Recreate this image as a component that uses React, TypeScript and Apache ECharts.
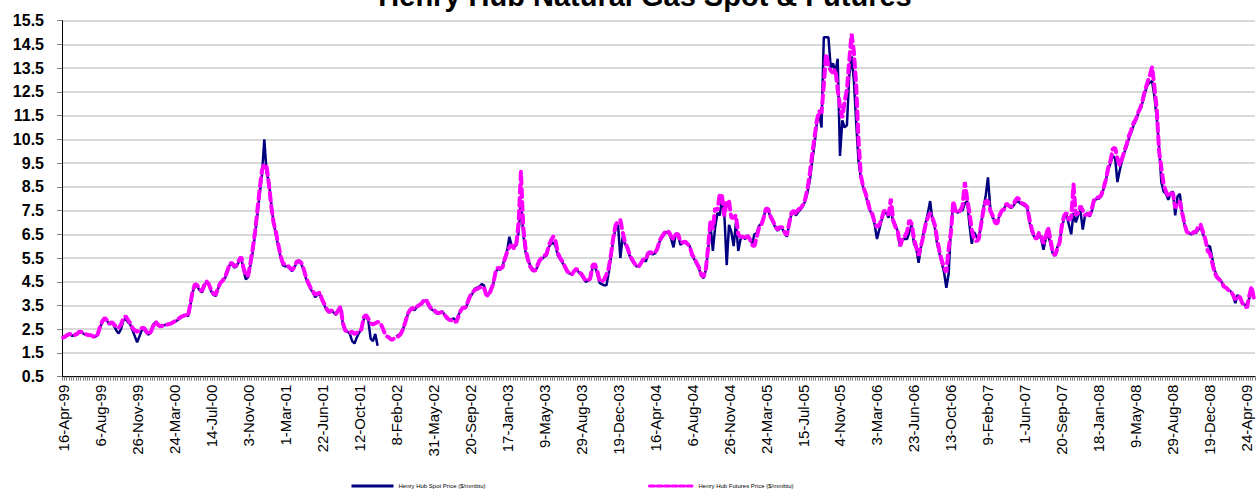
import React, { useEffect, useRef } from "react";
import * as echarts from "echarts";

const tickLabels = [
  "16-Apr-99", "6-Aug-99", "26-Nov-99", "24-Mar-00", "14-Jul-00", "3-Nov-00", "1-Mar-01",
  "22-Jun-01", "12-Oct-01", "8-Feb-02", "31-May-02", "20-Sep-02", "17-Jan-03", "9-May-03",
  "29-Aug-03", "19-Dec-03", "16-Apr-04", "6-Aug-04", "26-Nov-04", "24-Mar-05", "15-Jul-05",
  "4-Nov-05", "3-Mar-06", "23-Jun-06", "13-Oct-06", "9-Feb-07", "1-Jun-07", "20-Sep-07",
  "18-Jan-08", "9-May-08", "29-Aug-08", "19-Dec-08", "24-Apr-09",
];

const spotName = "Henry Hub Spot Price ($/mmbtu)";
const futuresName = "Henry Hub Futures Price ($/mmbtu)";

// weekly values, one row per 16 weeks (one row per tick label)
const spot: (number | null)[] = [
  2.12, 2.18, 2.25, 2.28, 2.22, 2.25, 2.32, 2.38, 2.36, 2.30, 2.27, 2.25, 2.24, 2.22, 2.18, 2.35,
  2.60, 2.80, 2.95, 2.85, 2.70, 2.78, 2.65, 2.45, 2.32, 2.50, 2.85, 2.95, 2.80, 2.70, 2.45, 2.20,
  1.95, 2.20, 2.45, 2.50, 2.35, 2.27, 2.45, 2.70, 2.80, 2.65, 2.62, 2.65, 2.68, 2.70, 2.72, 2.75,
  2.80, 2.85, 2.92, 3.00, 3.05, 3.10, 3.05, 3.50, 4.05, 4.35, 4.30, 4.15, 4.05, 4.30, 4.50, 4.40,
  4.10, 3.95, 3.90, 4.20, 4.45, 4.60, 4.65, 4.90, 5.20, 5.25, 5.10, 5.15, 5.35, 5.50, 5.00, 4.60,
  4.70, 5.20, 5.75, 6.50, 7.30, 8.20, 9.00, 10.50, 9.10, 8.70, 7.80, 7.00, 6.50, 6.00, 5.55, 5.20,
  5.15, 5.15, 5.05, 4.95, 5.10, 5.30, 5.35, 5.25, 5.00, 4.65, 4.40, 4.20, 4.05, 3.85, 3.95, 4.00,
  3.70, 3.50, 3.30, 3.20, 3.30, 3.20, 3.10, 3.30, 3.45, 2.70, 2.45, 2.40, 2.30, 2.00, 1.90, 2.15,
  2.35, 2.50, 2.90, 3.10, 2.85, 2.10, 2.00, 2.30, 1.80, null, null, null, null, null, null, null,
  2.20, 2.25, 2.30, 2.50, 2.80, 3.10, 3.30, 3.35, 3.30, 3.45, 3.50, 3.55, 3.70, 3.70, 3.50, 3.35,
  3.30, 3.20, 3.15, 3.20, 3.25, 3.10, 2.95, 2.90, 2.92, 2.95, 2.85, 3.10, 3.30, 3.40, 3.38, 3.60,
  3.85, 4.00, 4.20, 4.25, 4.30, 4.40, 4.35, 4.00, 3.95, 4.20, 4.40, 4.90, 5.05, 5.00, 5.15, 5.50,
  5.80, 6.40, 6.00, 5.95, 6.05, 6.60, 7.90, 6.50, 5.75, 5.40, 5.20, 5.05, 4.95, 5.10, 5.35, 5.45,
  5.55, 5.60, 5.95, 6.10, 6.15, 6.00, 5.60, 5.45, 5.30, 5.10, 4.90, 4.85, 4.80, 4.95, 5.05, 4.90,
  4.80, 4.65, 4.50, 4.55, 4.60, 5.10, 5.15, 4.85, 4.45, 4.40, 4.35, 4.35, 4.90, 5.60, 6.30, 6.80,
  6.90, 5.50, 6.40, 6.10, 5.90, 5.60, 5.40, 5.25, 5.15, 5.15, 5.30, 5.45, 5.35, 5.65, 5.70, 5.65,
  5.70, 5.85, 6.20, 6.35, 6.50, 6.60, 6.55, 6.30, 5.95, 6.55, 6.45, 6.05, 6.15, 6.20, 6.10, 6.00,
  5.60, 5.45, 5.25, 5.05, 4.75, 4.65, 5.00, 5.90, 6.90, 5.80, 6.80, 7.40, 7.30, 8.00, 7.30, 5.20,
  6.90, 6.60, 6.00, 7.00, 5.80, 6.30, 6.40, 6.30, 6.45, 6.30, 6.10, 6.50, 6.55, 6.85, 6.95, 7.25,
  7.55, 7.50, 7.20, 7.00, 6.80, 6.65, 6.75, 6.75, 6.55, 6.40, 6.90, 7.35, 7.40, 7.30, 7.45, 7.55,
  7.70, 7.90, 8.30, 8.80, 9.60, 10.30, 11.20, 11.60, 11.00, 14.80, 14.80, 14.80, 13.50, 13.70, 13.30, 13.90,
  9.80, 11.30, 11.00, 11.10, 13.20, 14.00, 13.00, 11.20, 9.60, 8.90, 8.50, 8.20, 7.80, 7.50, 7.30, 6.90,
  6.30, 6.70, 7.10, 7.40, 7.40, 7.20, 7.60, 7.00, 6.90, 6.60, 6.00, 6.30, 6.30, 6.30, 6.60, 6.90,
  6.10, 5.90, 5.30, 5.95, 6.50, 6.95, 7.40, 7.90, 7.10, 6.80, 6.10, 5.70, 5.30, 4.90, 4.25, 4.85,
  6.80, 7.80, 7.50, 7.40, 7.55, 7.50, 7.80, 7.90, 6.90, 6.10, 6.60, 6.40, 6.30, 6.90, 7.60, 8.10,
  8.90, 7.60, 7.20, 7.10, 7.00, 7.30, 7.50, 7.60, 7.75, 7.70, 7.60, 7.70, 7.85, 7.90, 7.80, 7.75,
  7.70, 7.60, 7.00, 6.60, 6.40, 6.30, 6.50, 6.30, 5.85, 6.30, 6.50, 6.10, 5.70, 5.60, 5.95, 6.20,
  6.80, 7.20, 7.30, 6.90, 6.50, 7.40, 7.00, 7.30, 7.50, 6.70, 7.30, 7.40, 7.25, 7.50, 7.90, 8.00,
  8.00, 8.10, 8.40, 8.80, 9.20, 9.50, 9.80, 9.70, 8.70, 9.20, 9.60, 9.95, 10.20, 10.55, 10.80, 11.10,
  11.30, 11.60, 11.80, 12.10, 12.50, 12.80, 12.90, 12.95, 12.30, 11.40, 10.20, 8.70, 8.30, 8.20, 7.95, 8.25,
  8.30, 7.30, 8.10, 8.20, 7.40, 6.90, 6.60, 6.55, 6.50, 6.55, 6.55, 6.70, 6.80, 6.50, 6.30, 6.00,
  6.00, 5.50, 5.00, 4.75, 4.60, 4.50, 4.30, 4.25, 4.15, 4.10, 3.90, 3.60, 3.95, 3.80, 3.60, 3.55,
  3.45, 3.80, 4.20, 3.85,
];

const futures: (number | null)[] = [
  2.15, 2.20, 2.27, 2.30, 2.25, 2.26, 2.30, 2.40, 2.38, 2.32, 2.28, 2.26, 2.25, 2.20, 2.16, 2.30,
  2.62, 2.85, 2.97, 2.88, 2.72, 2.80, 2.70, 2.60, 2.55, 2.70, 2.95, 3.05, 2.90, 2.75, 2.55, 2.45,
  2.40, 2.42, 2.55, 2.55, 2.40, 2.28, 2.40, 2.65, 2.82, 2.70, 2.62, 2.65, 2.68, 2.70, 2.72, 2.76,
  2.82, 2.88, 2.95, 3.02, 3.06, 3.10, 3.05, 3.55, 4.10, 4.40, 4.35, 4.20, 4.10, 4.35, 4.52, 4.40,
  4.15, 4.00, 3.95, 4.25, 4.45, 4.55, 4.70, 4.95, 5.25, 5.30, 5.15, 5.20, 5.40, 5.55, 5.10, 4.75,
  4.75, 5.30, 5.90, 6.60, 7.50, 8.40, 9.20, 9.45, 9.35, 8.60, 7.70, 7.00, 6.60, 6.10, 5.60, 5.30,
  5.20, 5.18, 5.10, 5.00, 5.12, 5.35, 5.38, 5.30, 5.05, 4.70, 4.45, 4.25, 4.10, 3.95, 4.00, 4.05,
  3.75, 3.55, 3.35, 3.22, 3.30, 3.22, 3.15, 3.30, 3.45, 2.75, 2.45, 2.40, 2.35, 2.40, 2.30, 2.35,
  2.40, 2.50, 3.00, 3.10, 2.95, 2.75, 2.70, 2.75, 2.80, 2.80, 2.60, 2.35, 2.20, 2.15, 2.05, 2.10,
  2.15, 2.20, 2.30, 2.50, 2.80, 3.15, 3.30, 3.40, 3.35, 3.45, 3.52, 3.58, 3.72, 3.75, 3.55, 3.40,
  3.35, 3.25, 3.18, 3.20, 3.22, 3.10, 2.98, 2.90, 2.88, 2.90, 2.78, 3.05, 3.30, 3.42, 3.40, 3.65,
  3.90, 4.05, 4.15, 4.20, 4.25, 4.30, 4.25, 3.95, 3.90, 4.15, 4.40, 4.90, 5.10, 5.05, 5.10, 5.45,
  5.75, 5.95, 6.05, 5.90, 6.10, 7.00, 9.15, 6.80, 5.90, 5.45, 5.15, 5.00, 4.95, 5.15, 5.40, 5.50,
  5.60, 5.65, 6.00, 6.25, 6.40, 6.20, 5.70, 5.50, 5.35, 5.15, 4.95, 4.85, 4.80, 4.95, 5.05, 4.90,
  4.85, 4.70, 4.55, 4.55, 4.65, 5.20, 5.25, 4.95, 4.55, 4.50, 4.60, 4.80, 5.10, 5.70, 6.40, 6.90,
  7.05, 7.10, 6.60, 6.15, 5.95, 5.65, 5.45, 5.30, 5.15, 5.15, 5.30, 5.45, 5.45, 5.70, 5.75, 5.70,
  5.72, 5.90, 6.25, 6.40, 6.55, 6.65, 6.60, 6.40, 6.30, 6.50, 6.50, 6.20, 6.15, 6.20, 6.10, 6.00,
  5.65, 5.50, 5.30, 5.10, 4.80, 4.70, 5.05, 6.00, 7.10, 6.70, 7.60, 7.50, 8.20, 8.10, 7.25, 7.90,
  7.90, 7.20, 7.20, 7.30, 6.50, 6.40, 6.40, 6.30, 6.45, 6.30, 6.05, 6.00, 6.40, 6.80, 6.90, 7.20,
  7.60, 7.55, 7.25, 7.05, 6.85, 6.70, 6.80, 6.80, 6.60, 6.45, 6.95, 7.40, 7.50, 7.35, 7.55, 7.60,
  7.75, 8.00, 8.45, 9.10, 9.90, 10.60, 11.30, 11.70, 11.60, 12.80, 14.10, 13.60, 13.40, 13.30, 13.45, 12.60,
  11.90, 11.40, 12.10, 12.60, 13.80, 14.95, 14.20, 12.80, 10.50, 9.00, 8.50, 8.25, 7.90, 7.50, 7.35, 7.00,
  6.80, 6.90, 7.15, 7.50, 7.45, 7.30, 8.00, 7.10, 6.80, 6.60, 6.00, 6.30, 6.40, 6.60, 7.10, 6.95,
  6.30, 5.95, 5.60, 6.00, 6.40, 6.90, 7.20, 7.40, 7.20, 6.90, 6.30, 5.80, 5.40, 5.10, 4.90, 5.90,
  6.60, 7.90, 7.50, 7.40, 7.50, 7.70, 8.70, 8.00, 7.40, 6.70, 6.30, 6.20, 6.30, 6.90, 7.50, 7.90,
  7.90, 7.50, 7.30, 7.00, 6.95, 7.30, 7.50, 7.55, 7.80, 7.70, 7.65, 7.75, 7.95, 8.05, 7.85, 7.80,
  7.75, 7.65, 7.10, 6.70, 6.40, 6.30, 6.55, 6.45, 6.10, 6.40, 6.80, 6.30, 5.75, 5.60, 5.90, 6.15,
  6.90, 7.30, 7.40, 7.10, 7.20, 8.60, 7.30, 7.40, 7.70, 7.50, 7.30, 7.35, 7.30, 7.60, 8.00, 8.05,
  8.05, 8.15, 8.45, 8.80, 9.30, 9.60, 10.10, 10.15, 9.70, 9.40, 9.70, 10.00, 10.30, 10.65, 10.90, 11.20,
  11.35, 11.65, 11.85, 12.20, 12.60, 12.90, 13.20, 13.55, 12.70, 11.80, 10.00, 9.30, 8.60, 8.30, 8.10, 8.20,
  8.25, 7.60, 7.80, 7.90, 7.40, 6.95, 6.60, 6.55, 6.50, 6.60, 6.60, 6.85, 6.90, 6.60, 6.30, 5.80,
  5.70, 5.30, 4.90, 4.70, 4.60, 4.50, 4.30, 4.25, 4.15, 4.10, 3.95, 3.75, 3.90, 3.85, 3.60, 3.50,
  3.40, 3.90, 4.30, 3.80,
];

const FONT = "'Liberation Sans', Arial, sans-serif";
const NARROW = "'Liberation Sans Narrow', 'Arial Narrow', " + FONT;

export default function App() {
  const ref = useRef<HTMLDivElement>(null);
  useEffect(() => {
    const chart = echarts.init(ref.current!, null, { renderer: "svg" });
    const cats = spot.map((_, i) => "w" + i);
    const legendBase = {
      top: 482,
      padding: 0,
      itemHeight: 10,
      itemGap: 5,
      itemStyle: { opacity: 0 },
      textStyle: { fontSize: 6, fontFamily: NARROW, color: "#000" },
    };
    chart.setOption({
      animation: false,
      backgroundColor: "#ffffff",
      title: {
        text: "Henry Hub Natural Gas Spot & Futures",
        left: 640,
        textAlign: "center",
        top: -24,
        textStyle: { fontSize: 29, fontWeight: "bold", fontFamily: FONT, color: "#000" },
      },
      legend: [
        { ...legendBase, data: [spotName], left: 350, itemWidth: 42, lineStyle: { width: 3 } },
        { ...legendBase, data: [futuresName], left: 648, itemWidth: 44, lineStyle: { width: 3, type: [5, 2.5] } },
      ],
      grid: { left: 62, right: 2, top: 20.7, bottom: 117.3, containLabel: false },
      xAxis: {
        type: "category",
        data: cats,
        boundaryGap: true,
        axisLine: { lineStyle: { color: "#000", width: 1 } },
        axisTick: { show: true, interval: 0, length: 4, lineStyle: { color: "#808080" } },
        axisLabel: {
          interval: 15,
          rotate: 90,
          margin: 8,
          fontSize: 15,
          fontFamily: FONT,
          color: "#000",
          formatter: (_v: string, i: number) => (i % 16 === 0 ? tickLabels[i / 16] ?? "" : ""),
        },
        splitLine: { show: false },
      },
      yAxis: {
        type: "value",
        min: 0.5,
        max: 15.5,
        interval: 1,
        axisLine: { show: true, lineStyle: { color: "#000", width: 1 } },
        axisTick: { show: true, length: 5, lineStyle: { color: "#808080" } },
        axisLabel: {
          fontSize: 16,
          fontWeight: "bold",
          fontFamily: FONT,
          color: "#000",
          margin: 18,
          formatter: (v: number) => v.toFixed(1),
        },
        splitLine: { show: true, lineStyle: { color: "#cccccc", width: 1.5 } },
      },
      series: [
        {
          name: spotName,
          type: "line",
          data: spot,
          symbol: "none",
          connectNulls: false,
          lineStyle: { color: "#000080", width: 2.5 },
          itemStyle: { color: "#000080" },
          z: 2,
        },
        {
          name: futuresName,
          type: "line",
          data: futures,
          symbol: "none",
          lineStyle: { color: "#ff00ff", width: 4, type: [8, 5], cap: "round" },
          itemStyle: { color: "#ff00ff" },
          z: 3,
        },
      ],
    });
    return () => chart.dispose();
  }, []);
  return (
    <div
      ref={ref}
      style={{ position: "absolute", left: 0, top: 0, width: 1257, height: 494 }}
    />
  );
}
